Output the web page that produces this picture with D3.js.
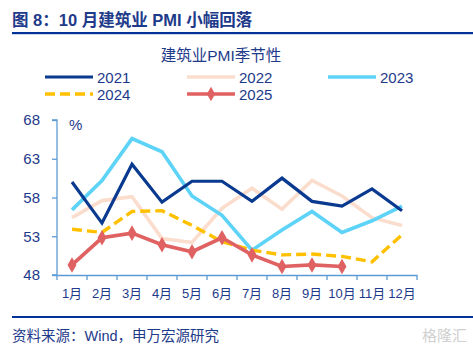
<!DOCTYPE html>
<html><head><meta charset="utf-8">
<script src="https://cdn.jsdelivr.net/npm/d3@7/dist/d3.min.js"></script>
<style>body{margin:0;background:#fff;}svg{display:block;font-family:"Liberation Sans","Noto Sans CJK SC",Arial,sans-serif;}</style>
</head><body>
<script>
const months = ["1月","2月","3月","4月","5月","6月","7月","8月","9月","10月","11月","12月"];
const yTicks = [48,53,58,63,68];
const s2021 = [60.0,54.7,62.3,57.4,60.1,60.1,57.5,60.5,57.5,56.9,59.1,56.3];
const s2022 = [55.4,57.6,58.1,52.7,52.2,56.6,59.2,56.5,60.2,58.2,55.4,54.4];
const s2023 = [56.4,60.2,65.6,63.9,58.2,55.7,51.2,53.8,56.2,53.5,55.0,56.9];
const s2024 = [53.9,53.5,56.2,56.3,54.4,52.3,51.2,50.6,50.7,50.4,49.7,53.2];
const s2025 = [49.3,52.8,53.4,51.9,51.0,52.8,50.6,49.1,49.3,49.1];
const seriesNames = ["2021","2022","2023","2024","2025"];

const W=473,H=353;
const txt="#1E3A8A";
const svg=d3.select("body").append("svg").attr("width",W).attr("height",H);

svg.append("text").attr("x",12).attr("y",26).attr("font-size",16.5).attr("font-weight","bold")
  .attr("fill",txt).text("图 8：10 月建筑业 PMI 小幅回落");
svg.append("rect").attr("x",12).attr("y",32).attr("width",W-12).attr("height",2.2).attr("fill","#003399");
svg.append("rect").attr("x",12).attr("y",316).attr("width",W-12).attr("height",2).attr("fill","#003399");
svg.append("text").attr("x",12).attr("y",341).attr("font-size",14.5).attr("fill",txt).text("资料来源：Wind，申万宏源研究");
svg.append("text").attr("x",467).attr("y",341).attr("text-anchor","end").attr("font-size",15).attr("fill","#d0d0d0").text("格隆汇");

svg.append("text").attr("x",221).attr("y",61).attr("text-anchor","middle").attr("font-size",15.5).attr("fill",txt).text("建筑业PMI季节性");

const x=d3.scaleBand().domain(months).range([57,417]);
const y=d3.scaleLinear().domain([48,68]).range([275,120]);
const axisColor="#5B9BD5";

const gx=svg.append("g").attr("transform","translate(0,275)")
  .call(d3.axisBottom(x).tickSize(0).tickPadding(14));
gx.select(".domain").attr("stroke",axisColor).attr("stroke-width",1.3);
gx.selectAll("text").attr("font-size",13).attr("fill",txt).attr("font-family","Liberation Sans, Noto Sans CJK SC, sans-serif");
const bounds=months.map((m)=>x(m)).concat([x.range()[1]]);
svg.append("g").selectAll("line").data(bounds).join("line")
  .attr("x1",d=>d).attr("x2",d=>d).attr("y1",275).attr("y2",280).attr("stroke",axisColor).attr("stroke-width",1.3);

const gy=svg.append("g").attr("transform","translate(57,0)")
  .call(d3.axisLeft(y).tickValues(yTicks).tickSize(5).tickPadding(12));
gy.select(".domain").attr("stroke",axisColor).attr("stroke-width",1.3).attr("d","M-5,120H0V275H-5");
gy.selectAll(".tick line").attr("stroke",axisColor).attr("stroke-width",1.3);
gy.selectAll("text").attr("font-size",15).attr("fill",txt).attr("font-family","Liberation Sans, sans-serif");
svg.append("text").attr("x",69).attr("y",130).attr("font-size",15).attr("fill",txt).text("%");

const styles={
 "2021":{c:"#0A3A90",w:3.2,dash:null},
 "2022":{c:"#FBDDCD",w:3.6,dash:null},
 "2023":{c:"#5DD3F8",w:3.6,dash:null},
 "2024":{c:"#FFC000",w:3.4,dash:"10,5"},
 "2025":{c:"#E06161",w:3.6,dash:null}
};
const data={"2021":s2021,"2022":s2022,"2023":s2023,"2024":s2024,"2025":s2025};
const line=d3.line().x((d,i)=>x(months[i])+x.bandwidth()/2).y(d=>y(d));
const order=["2022","2023","2024","2021","2025"];
order.forEach(k=>{
  const st=styles[k];
  svg.append("path").datum(data[k]).attr("d",line).attr("fill","none")
    .attr("stroke",st.c).attr("stroke-width",st.w).attr("stroke-linejoin","miter")
    .attr("stroke-dasharray",st.dash);
});
svg.append("g").selectAll("path").data(s2025).join("path")
  .attr("d",d3.symbol(d3.symbolDiamond,70))
  .attr("transform",(d,i)=>`translate(${x(months[i])+x.bandwidth()/2},${y(d)})`)
  .attr("fill",styles["2025"].c);

const leg=[{k:"2021",lx:45,ly:77},{k:"2022",lx:187,ly:77},{k:"2023",lx:328,ly:77},{k:"2024",lx:45,ly:94},{k:"2025",lx:187,ly:94}];
leg.forEach(L=>{
  const st=styles[L.k];
  svg.append("line").attr("x1",L.lx).attr("x2",L.lx+48).attr("y1",L.ly).attr("y2",L.ly)
    .attr("stroke",st.c).attr("stroke-width",st.w).attr("stroke-dasharray",st.dash);
  if(L.k==="2025"){
    svg.append("path").attr("d",d3.symbol(d3.symbolDiamond,60)).attr("transform",`translate(${L.lx+24},${L.ly})`).attr("fill",st.c);
  }
  svg.append("text").attr("x",L.lx+52).attr("y",L.ly+5.5).attr("font-size",15).attr("fill",txt).text(L.k);
});
</script>
</body></html>
